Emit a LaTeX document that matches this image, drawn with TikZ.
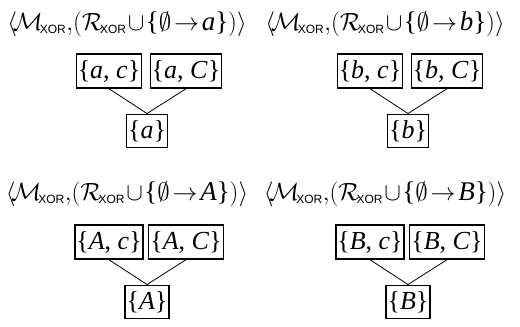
\documentclass[tikz,border=0pt]{standalone}
\usepackage{fontspec}
\setmainfont{Liberation Serif}
\setsansfont{Liberation Sans}
\newcommand{\boxfont}{\fontsize{26}{30}\selectfont}
\newcommand{\titlefont}{\fontsize{27}{32}\selectfont}
\newcommand{\xor}{\textsf{\fontsize{12}{14}\selectfont XOR}}
\newcommand{\ttl}[1]{$\big\langle\!\mathcal{M}_{\!\xor}\mathord{,}\mathord{(}\mathcal{R}_{\!\xor}\!\cup\!\textrm{\{}\emptyset\!\rightarrow\!\textit{#1}\textrm{\}}\mathord{)}\big\rangle$}
\newcommand{\st}[2]{\{\textit{#1}, \textit{#2}\}}
\newcommand{\sg}[1]{\{\textit{#1}\}}
\begin{document}
\begin{tikzpicture}[x=1pt,y=-1pt,
  setbox/.style={draw, line width=1.4pt, inner xsep=1.5pt, inner ysep=6pt, font=\boxfont},
  titlenode/.style={inner sep=0pt, font=\titlefont},
  link/.style={line width=0.8pt}]
\useasboundingbox (0,0) rectangle (520,327);
% top-left
\node[titlenode] (t1) at (127,24) {\ttl{a}};
\node[setbox] (ac) at (109,71) {\st{a}{c}};
\node[setbox] (aC) at (186,71) {\st{a}{C}};
\node[setbox] (a) at (147,131) {\sg{a}};
\draw[link] (ac.south) -- (a.north);
\draw[link] (aC.south) -- (a.north);
% top-right
\node[titlenode] (t2) at (385,24) {\ttl{b}};
\node[setbox] (bc) at (370,71) {\st{b}{c}};
\node[setbox] (bC) at (447,71) {\st{b}{C}};
\node[setbox] (b) at (408,131) {\sg{b}};
\draw[link] (bc.south) -- (b.north);
\draw[link] (bC.south) -- (b.north);
% bottom-left
\node[titlenode] (t3) at (127,194) {\ttl{A}};
\node[setbox] (Ac) at (109,242) {\st{A}{c}};
\node[setbox] (AC) at (186,242) {\st{A}{C}};
\node[setbox] (A) at (147,302) {\sg{A}};
\draw[link] (Ac.south) -- (A.north);
\draw[link] (AC.south) -- (A.north);
% bottom-right
\node[titlenode] (t4) at (385,194) {\ttl{B}};
\node[setbox] (Bc) at (370,242) {\st{B}{c}};
\node[setbox] (BC) at (447,242) {\st{B}{C}};
\node[setbox] (B) at (408,302) {\sg{B}};
\draw[link] (Bc.south) -- (B.north);
\draw[link] (BC.south) -- (B.north);
\end{tikzpicture}
\end{document}
